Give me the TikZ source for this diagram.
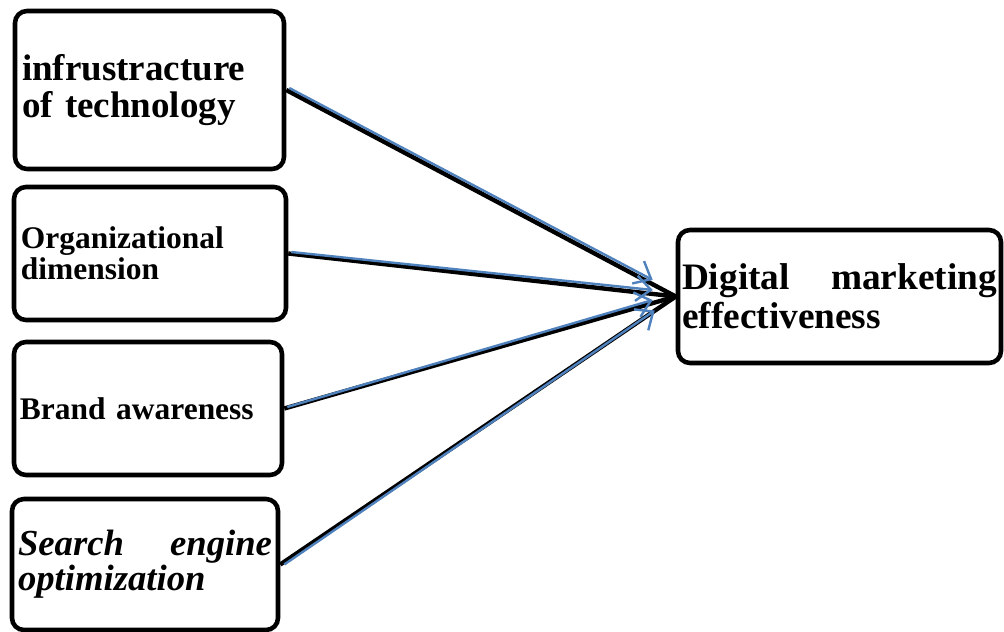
\documentclass[tikz,border=0pt]{standalone}
\usepackage{fontspec}
\setmainfont{Liberation Serif}
\usetikzlibrary{arrows.meta,calc}

\definecolor{linkblue}{RGB}{79,129,189}

\begin{document}
\begin{tikzpicture}[x=0.75pt,y=-0.75pt,
  factor/.style={draw=black, line width=3.4pt, rounded corners=9pt,
    align=left, inner ysep=0pt, font=\bfseries},
  mainlink/.style={draw=black, line width=3.3pt},
  bluelink/.style={draw=linkblue, line width=1.8pt,
    -{Straight Barb[length=11pt,width=19pt,line width=1.8pt]}}]

\useasboundingbox (0,0) rectangle (1004,632);

% factor boxes on the left
\node[factor, minimum width=269*0.75pt, minimum height=158*0.75pt,
  inner xsep=7*0.75pt, text width=255*0.75pt,
  font=\bfseries\fontsize{27.75pt}{28pt}\selectfont]
  (infra) at (149.5,90) {infrustracture\\of technology};

\node[factor, minimum width=272*0.75pt, minimum height=133*0.75pt,
  inner xsep=7*0.75pt, text width=258*0.75pt,
  font=\bfseries\fontsize{23.6pt}{23.5pt}\selectfont]
  (org) at (150,253.5) {Organizational\\dimension};

\node[factor, minimum width=268*0.75pt, minimum height=133*0.75pt,
  inner xsep=6*0.75pt, text width=256*0.75pt,
  font=\bfseries\fontsize{23.6pt}{23.5pt}\selectfont]
  (brand) at (148,408.5) {Brand awareness};

\node[factor, minimum width=266*0.75pt, minimum height=131*0.75pt,
  inner xsep=6*0.75pt, text width=254*0.75pt,
  font=\bfseries\itshape\fontsize{27.5pt}{26.5pt}\selectfont]
  (seo) at (145,564.5) {Search\hfill engine\\optimization};

% outcome box on the right
\node[factor, minimum width=323*0.75pt, minimum height=133*0.75pt,
  inner xsep=4*0.75pt, text width=315*0.75pt,
  font=\bfseries\fontsize{28pt}{29pt}\selectfont]
  (dme) at (839.5,296.5) {Digital\hfill marketing\\effectiveness};

% heavy black links
\foreach \src in {infra,org,brand,seo}
  \draw[mainlink] (\src.east) -- (dme.west);

% thin blue arrows laid along the black links
\draw[bluelink] ($(infra.east)+(3,-2)$) -- ($(dme.west)+(-23,-16.5)$);
\draw[bluelink] ($(org.east)+(3,-1.5)$) -- ($(dme.west)+(-23,-6.5)$);
\draw[bluelink] ($(brand.east)+(3,-1.5)$) -- ($(dme.west)+(-23,3.5)$);
\draw[bluelink] ($(seo.east)+(4,0)$)    -- ($(dme.west)+(-21,14)$);

\end{tikzpicture}
\end{document}
